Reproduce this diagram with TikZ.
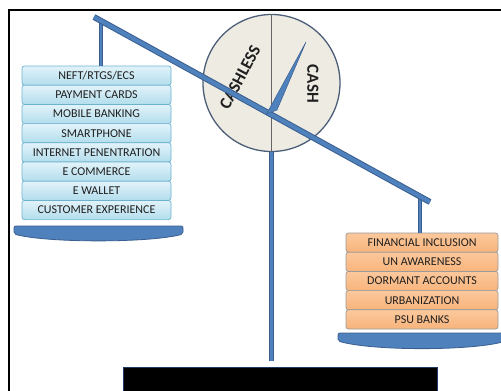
\documentclass[tikz,border=0pt]{standalone}
\usepackage{fontspec}
\setmainfont{Carlito}
\definecolor{beamblue}{HTML}{4F81BD}
\definecolor{beamdark}{HTML}{3A5F8F}
\definecolor{rowbluetop}{HTML}{E2F3FA}
\definecolor{rowbluebot}{HTML}{B2DDEC}
\definecolor{rowblueedge}{HTML}{6CB3CF}
\definecolor{rowortop}{HTML}{FBC89C}
\definecolor{rowobot}{HTML}{F8B47C}
\definecolor{rowoedge}{HTML}{9A9A9A}
\definecolor{dialfill}{HTML}{EEEBE3}
\definecolor{dialedge}{HTML}{4C5E78}
\definecolor{boxedge}{HTML}{1F3864}
\tikzset{
  bluerow/.style={draw=rowblueedge, line width=0.7pt, top color=rowbluetop, bottom color=rowbluebot,
    rounded corners=2.5pt, minimum width=149pt, minimum height=19.2pt, inner sep=0pt,
    font=\fontsize{12}{12}\selectfont, text=black!88},
  orangerow/.style={draw=rowoedge, line width=0.7pt, top color=rowortop, bottom color=rowobot,
    rounded corners=2.5pt, minimum width=152pt, minimum height=19.2pt, inner sep=0pt,
    font=\fontsize{12}{12}\selectfont, text=black!88},
  beamline/.style={draw=beamdark, line width=6pt},
  beamcore/.style={draw=beamblue, line width=4pt},
  postline/.style={draw=beamdark, line width=4.5pt},
  postcore/.style={draw=beamblue, line width=2.8pt},
  pan/.style={fill=beamblue, draw=beamdark, line width=0.8pt, rounded corners=2pt},
  dialtext/.style={font=\fontsize{17}{18}\selectfont\bfseries, text=black!88, inner sep=0pt},
}
\begin{document}
\begin{tikzpicture}[x=1pt,y=-1pt]
\useasboundingbox (0,0) rectangle (501,391);
\clip (0,0) rectangle (501,391);
\fill[white] (0,0) rectangle (501,391);
% frame
\draw[line width=1.3pt, black] (9,391) -- (9,10) -- (501,10);
% dial
\node[circle, draw=dialedge, fill=dialfill, line width=1.3pt, minimum size=137pt, inner sep=0pt] (dial) at (271.5,83) {};
\draw[gray!80!black, line width=0.6pt] (dial.north) -- (dial.south);
\node[dialtext, rotate=62] (cashless) at (240,77) {CASHLESS};
\node[dialtext, rotate=-90] (cash) at (313,84) {CASH};
% coordinates
\coordinate (beamL) at (94,17);
\coordinate (beamR) at (430,202);
\coordinate (postbot) at (271.5,361);
\coordinate (hangLtop) at (101,20);
\coordinate (hangRtop) at (420,197);
% rows left
\foreach \t [count=\i] in {NEFT/RTGS/ECS,PAYMENT CARDS,MOBILE BANKING,SMARTPHONE,INTERNET PENENTRATION,E COMMERCE,E WALLET,CUSTOMER EXPERIENCE}{
  \node[bluerow] (l\i) at (96.5,{66+19.2*(\i-0.5)}) {\t};
}
\foreach \t [count=\i] in {FINANCIAL INCLUSION,UN AWARENESS,DORMANT ACCOUNTS,URBANIZATION,PSU BANKS}{
  \node[orangerow] (r\i) at (422,{233+19.2*(\i-0.5)}) {\t};
}
% posts
\draw[postline] (dial.south) -- (postbot);
\draw[postcore] (dial.south) -- (postbot);
\draw[postline] (hangLtop) -- (l1.north -| hangLtop);
\draw[postcore] (hangLtop) -- (l1.north -| hangLtop);
\draw[postline] (hangRtop) -- (r1.north -| hangRtop);
\draw[postcore] (hangRtop) -- (r1.north -| hangRtop);
% beam
\draw[beamline] (beamL) -- (beamR);
\draw[beamcore] (beamL) -- (beamR);
% needle
\filldraw[fill=beamblue, draw=beamdark, line width=0.5pt] (266.5,114) -- (306,42) -- (277,110) -- cycle;
% pans
\draw[pan] (14,226) -- (183,226) -- (183,234) .. controls (150,243) and (47,243) .. (14,234) -- cycle;
\draw[pan] (338,333) -- (506,333) -- (506,341) .. controls (472,351) and (372,351) .. (338,341) -- cycle;
% black box
\node[draw=boxedge, fill=black, line width=1pt, minimum width=314pt, minimum height=30pt, inner sep=0pt, anchor=north west] (base) at (123,367) {};
\end{tikzpicture}
\end{document}
